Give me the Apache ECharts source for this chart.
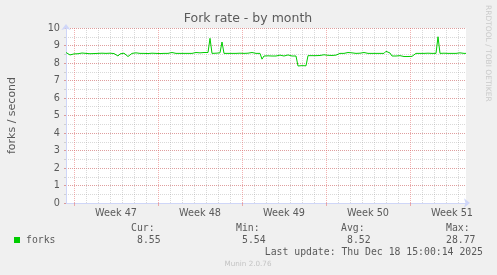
<!DOCTYPE html>
<html><head><meta charset="utf-8">
<script src="https://cdn.jsdelivr.net/npm/echarts@6/dist/echarts.min.js"></script>
<style>html,body{margin:0;padding:0;background:#f0f0f0;}#c{width:497px;height:275px;}</style>
</head><body><div id="c"></div>
<script>
// forks per second, one sample per 4 hours (month view)
const forks = [
  8.60, 8.50, 8.46, 8.55, 8.52, 8.58, 8.53, 8.55, 8.57, 8.54,
  8.55, 8.60, 8.53, 8.55, 8.54, 8.58, 8.55, 8.53, 8.56, 8.55,
  8.55, 8.53, 8.56, 8.55, 8.54, 8.55, 8.40, 8.52, 8.55, 8.56,
  8.50, 8.37, 8.46, 8.55, 8.52, 8.58, 8.55, 8.55, 8.56, 8.55,
  8.55, 8.54, 8.55, 8.56, 8.67, 8.55, 8.55, 8.54, 8.55, 8.55,
  8.55, 8.55, 8.55, 8.60, 8.55, 8.55, 8.54, 8.55, 8.55, 8.55,
  8.62, 8.55, 8.54, 8.55, 8.55, 8.60, 8.55, 8.58, 8.55, 8.60,
  8.55, 8.60, 9.41, 8.55, 8.55, 8.56, 8.55, 8.58, 9.20, 8.55,
  8.55, 8.55, 8.62, 8.55, 8.58, 8.55, 8.55, 8.56, 8.55, 8.55,
  8.55, 8.56, 8.55, 8.60, 8.55, 8.55, 8.55, 8.55, 8.22, 8.40,
  8.40, 8.41, 8.40, 8.40, 8.42, 8.40, 8.40, 8.45, 8.40, 8.40,
  8.40, 8.46, 8.41, 8.40, 8.40, 8.40, 7.83, 7.83, 7.85, 7.83,
  7.84, 8.42, 8.44, 8.42, 8.47, 8.42, 8.46, 8.43, 8.42, 8.47,
  8.42, 8.44, 8.42, 8.43, 8.42, 8.45, 8.55, 8.55, 8.56, 8.55,
  8.55, 8.60, 8.55, 8.58, 8.55, 8.55, 8.55, 8.56, 8.55, 8.60,
  8.55, 8.55, 8.55, 8.55, 8.55, 8.55, 8.58, 8.55, 8.55, 8.55,
  8.67, 8.60, 8.57, 8.40, 8.38, 8.40, 8.40, 8.42, 8.38, 8.37,
  8.37, 8.37, 8.37, 8.38, 8.37, 8.55, 8.55, 8.55, 8.55, 8.55,
  8.55, 8.56, 8.55, 8.55, 8.55, 8.55, 9.50, 8.55, 8.55, 8.56,
  8.55, 8.55, 8.60, 8.55, 8.55, 8.55, 8.55, 8.58, 8.54, 8.55,
  8.55
];
const weekLabels = ['Week 47', 'Week 48', 'Week 49', 'Week 50', 'Week 51'];
const weekStartIdx = [4, 46, 88, 130, 172];
const weekLabelIdx = [25, 67, 109, 151, 193];
const samplesPerDay = 6;
const statHeads = ['Cur:', 'Min:', 'Avg:', 'Max:'];
const statVals = ['8.55', '5.54', '8.52', '28.77'];
const seriesName = 'forks';
const lastUpdate = 'Last update: Thu Dec 18 15:00:14 2025';

const cats = forks.map((v, i) => String(i));
const isWeek = i => weekStartIdx.indexOf(i) >= 0;
const isDay = i => i >= weekStartIdx[0] && (i - weekStartIdx[0]) % samplesPerDay === 0 && !isWeek(i);

const FONT = 'DejaVu Sans';
const MONO = 'DejaVu Sans Mono';
const TXT = '#5a5a5a';
const AXISC = '#cfd6f8';
const GRAYG = 'rgba(160,160,160,0.4)';
const REDG = 'rgba(230,100,100,0.5)';

const chart = echarts.init(document.getElementById('c'), null, {renderer: 'canvas'});

const headX = [131, 236, 341, 446];
const valX = [137, 242, 347, 446];
const graphics = [
  {type: 'text', x: 248, y: 18.5, style: {text: 'Fork rate - by month', font: '12.5px ' + FONT, fill: TXT, textAlign: 'center', textVerticalAlign: 'middle'}},
  {type: 'text', x: 488, y: 5, rotation: -Math.PI / 2, style: {text: 'RRDTOOL / TOBI OETIKER', font: '7.5px ' + FONT, fill: '#cacaca', textAlign: 'left', textVerticalAlign: 'middle'}},
  {type: 'rect', shape: {x: 14, y: 237, width: 6, height: 6}, style: {fill: '#00cc00'}},
  {type: 'text', x: 26, y: 240, style: {text: seriesName, font: '9.8px ' + MONO, fill: TXT, textAlign: 'left', textVerticalAlign: 'middle'}},
  {type: 'text', x: 483, y: 252, style: {text: lastUpdate, font: '9.8px ' + MONO, fill: TXT, textAlign: 'right', textVerticalAlign: 'middle'}},
  {type: 'text', x: 248, y: 264, style: {text: 'Munin 2.0.76', font: '7.2px ' + FONT, fill: '#c4c4c4', textAlign: 'center', textVerticalAlign: 'middle'}}
];
statHeads.forEach((h, k) => {
  graphics.push({type: 'text', x: headX[k], y: 228, style: {text: h, font: '9.8px ' + MONO, fill: TXT, textAlign: 'left', textVerticalAlign: 'middle'}});
  graphics.push({type: 'text', x: valX[k], y: 240, style: {text: statVals[k], font: '9.8px ' + MONO, fill: TXT, textAlign: 'left', textVerticalAlign: 'middle'}});
});

chart.setOption({
  animation: false,
  backgroundColor: '#f0f0f0',
  grid: {left: 66, top: 28, width: 400, height: 175, show: true, backgroundColor: '#ffffff', borderWidth: 0, containLabel: false, outerBoundsMode: 'none'},
  xAxis: [
    {
      type: 'category', data: cats, boundaryGap: false, position: 'bottom',
      axisLine: {show: true, lineStyle: {color: AXISC, width: 1}, symbol: ['none', 'arrow'], symbolSize: [7, 6], symbolOffset: [0, 4]},
      axisTick: {show: false}, axisLabel: {show: false},
      splitLine: {show: true, interval: (i) => isDay(i), lineStyle: {color: GRAYG, width: 1, type: [1, 1]}}
    },
    {
      type: 'category', data: cats, boundaryGap: false, position: 'bottom',
      axisLine: {show: false},
      axisTick: {show: true, interval: (i) => isWeek(i), length: 3, inside: false, lineStyle: {color: REDG, width: 1}},
      axisLabel: {show: true, interval: (i) => weekLabelIdx.indexOf(i) >= 0, margin: 5,
        formatter: (v, i) => { const k = weekLabelIdx.indexOf(Number(v)); return k >= 0 ? weekLabels[k] : ''; },
        color: TXT, fontFamily: FONT, fontSize: 9.7, hideOverlap: false},
      splitLine: {show: true, interval: (i) => isWeek(i), lineStyle: {color: REDG, width: 1, type: [1, 1]}}
    }
  ],
  yAxis: [
    {
      type: 'value', min: 0, max: 10, interval: 0.5, position: 'left',
      axisLine: {show: true, lineStyle: {color: AXISC, width: 1}, symbol: ['none', 'arrow'], symbolSize: [7, 6], symbolOffset: [0, 4]},
      axisTick: {show: true, length: 2, lineStyle: {color: GRAYG}}, axisLabel: {show: false},
      splitLine: {show: true, lineStyle: {color: GRAYG, width: 1, type: [1, 1]}},
      name: 'forks / second', nameLocation: 'middle', nameGap: 48, nameRotate: 90, nameMoveOverlap: false,
      nameTextStyle: {color: TXT, fontFamily: FONT, fontSize: 11}
    },
    {
      type: 'value', min: 0, max: 10, interval: 1, position: 'left', offset: 0,
      axisLine: {show: false},
      axisTick: {show: true, length: 2, lineStyle: {color: REDG}},
      axisLabel: {show: true, margin: 6, color: TXT, fontFamily: FONT, fontSize: 9.7},
      splitLine: {show: true, lineStyle: {color: REDG, width: 1, type: [1, 1]}}
    }
  ],
  graphic: graphics,
  series: [{
    name: seriesName, type: 'line', data: forks, xAxisIndex: 0, yAxisIndex: 1,
    showSymbol: false, symbol: 'none', z: 10,
    lineStyle: {color: '#00cc00', width: 1}
  }]
});
</script>
</body></html>
